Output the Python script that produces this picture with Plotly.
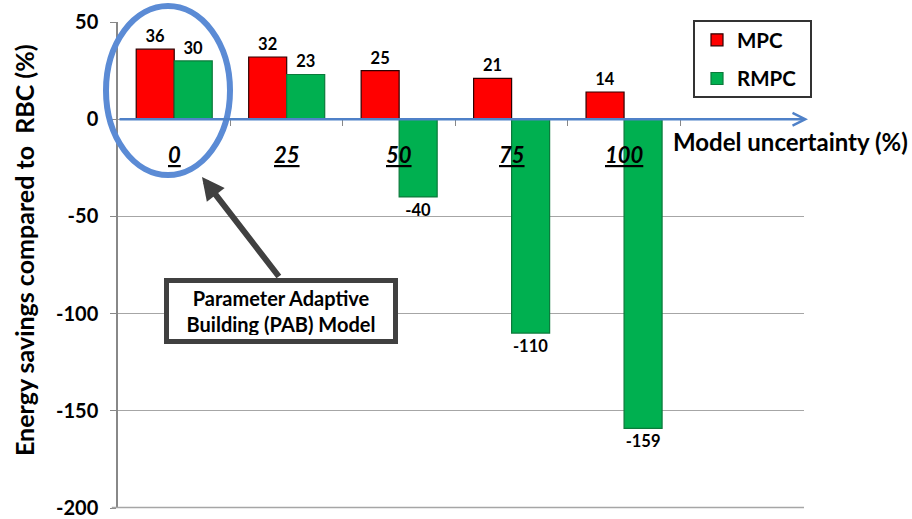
import plotly.graph_objects as go

categories = ["0", "25", "50", "75", "100"]
mpc = [36, 32, 25, 21, 14]
rmpc = [30, 23, -40, -110, -159]
series_names = ["MPC", "RMPC"]
y_ticks = [50, 0, -50, -100, -150, -200]
y_tick_text = ["50", "0", "-50", "-100", "-150", "-200"]

FONT = "Lato"
W, H = 912, 519
L, R, T, B = 118, 804, 22, 508


def xp(px):
    return (px - L) / (R - L)


def yp(py):
    return (B - py) / (B - T)


xs = list(range(len(categories)))

fig = go.Figure()
fig.add_trace(go.Bar(
    x=xs, y=mpc, name=series_names[0], legendgroup="a",
    marker=dict(color="#FF0000", line=dict(color="#300000", width=1.2)),
    text=[str(v) for v in mpc], textposition="outside",
    textfont=dict(family=FONT, size=16.5, color="black", weight="bold"),
    cliponaxis=False,
))
fig.add_trace(go.Bar(
    x=xs, y=rmpc, name=series_names[1], legendgroup="b",
    marker=dict(color="#00B050", line=dict(color="#0B7A3B", width=1.2)),
    text=[str(v) for v in rmpc], textposition="outside",
    textfont=dict(family=FONT, size=16.5, color="black", weight="bold"),
    cliponaxis=False,
))

annotations = []
# category labels
for i, c in enumerate(categories):
    annotations.append(dict(
        x=i, xref="x", y=yp(154), yref="paper", text="<i><u>" + c + "</u></i>",
        showarrow=False, font=dict(family=FONT, size=22, color="black", weight="bold"),
        xanchor="center", yanchor="middle"))
# x axis title
annotations.append(dict(
    x=xp(671), xref="paper", y=yp(141), yref="paper", text="Model uncertainty (%)",
    showarrow=False, font=dict(family=FONT, size=24, color="black", weight="bold"),
    xanchor="left", yanchor="middle"))
# y axis title
annotations.append(dict(
    x=xp(24), xref="paper", y=yp(250), yref="paper",
    text="Energy savings compared to  RBC (%)", textangle=-90,
    showarrow=False, font=dict(family=FONT, size=25, color="black", weight="bold"),
    xanchor="center", yanchor="middle"))
# blue axis arrow at y=0
annotations.append(dict(
    x=xp(808), xref="paper", y=0, yref="y", ax=-(808 - L), ay=0, axref="pixel", ayref="pixel",
    text="", showarrow=True, arrowhead=5, arrowsize=1.0, arrowwidth=2.5,
    arrowcolor="#4F81C8", standoff=0))
# PAB arrow
annotations.append(dict(
    x=xp(202), xref="paper", y=yp(177), yref="paper", ax=78, ay=101,
    text="", showarrow=True, arrowhead=2, arrowsize=0.75, arrowwidth=6,
    arrowcolor="#404040", standoff=0))
# PAB box
annotations.append(dict(
    x=xp(281), xref="paper", y=yp(310.5), yref="paper",
    text="Parameter Adaptive<br>Building (PAB) Model", showarrow=False,
    font=dict(family=FONT, size=20, color="black", weight="bold"),
    bgcolor="white", bordercolor="#404040", borderwidth=5, borderpad=4,
    width=216, height=48, align="center", xanchor="center", yanchor="middle"))

shapes = [
    # bottom gridline at -200
    dict(type="line", xref="paper", yref="paper", x0=-0.009, x1=1, y0=yp(507.5), y1=yp(507.5),
         line=dict(color="#A6A6A6", width=1.5), layer="above"),
    # legend frame (white fill hides the top gridline near it)
    dict(type="rect", xref="paper", yref="paper", x0=xp(680), x1=xp(694),
         y0=yp(24), y1=yp(20), fillcolor="white", line=dict(width=0), layer="above"),
    dict(type="rect", xref="paper", yref="paper", x0=xp(694), x1=xp(811),
         y0=yp(97), y1=yp(21), fillcolor="white", line=dict(color="#333333", width=2),
         layer="above"),
    # highlight ellipse
    dict(type="circle", xref="paper", yref="paper", x0=xp(106), x1=xp(230),
         y0=yp(175), y1=yp(6), line=dict(color="#5B8BD5", width=6)),
]

fig.update_layout(
    width=W, height=H,
    margin=dict(l=L, r=W - R, t=T, b=H - B, autoexpand=False),
    paper_bgcolor="white", plot_bgcolor="white",
    barmode="group", bargap=0.324, bargroupgap=0,
    showlegend=True,
    legend=dict(x=xp(697), y=yp(20), xanchor="left", yanchor="top",
                bgcolor="rgba(0,0,0,0)", borderwidth=0,
                font=dict(family=FONT, size=20.5, color="black", weight="bold"),
                tracegroupgap=9, itemwidth=30),
    xaxis=dict(range=[-0.5, 5.6], anchor="free", position=yp(118), automargin=False,
               tickvals=[0.5, 1.5, 2.5, 3.5, 4.5], showticklabels=False,
               ticks="outside", ticklen=7, tickcolor="#888888", tickwidth=1,
               showgrid=False, zeroline=False, showline=False),
    yaxis=dict(range=[-200, 50], tickvals=y_ticks, ticktext=y_tick_text,
               ticks="outside", ticklen=6, automargin=False,
               tickcolor="#888888", showline=True, linecolor="#888888", linewidth=1.5,
               showgrid=True, gridcolor="#A6A6A6", gridwidth=1.2, zeroline=False,
               tickfont=dict(family=FONT, size=20, color="black", weight="bold"),
               ticklabelstandoff=8),
    annotations=annotations,
    shapes=shapes,
)

fig.write_html("out.html", config={"displayModeBar": False},
               post_script="document.body.style.margin='0px';")
